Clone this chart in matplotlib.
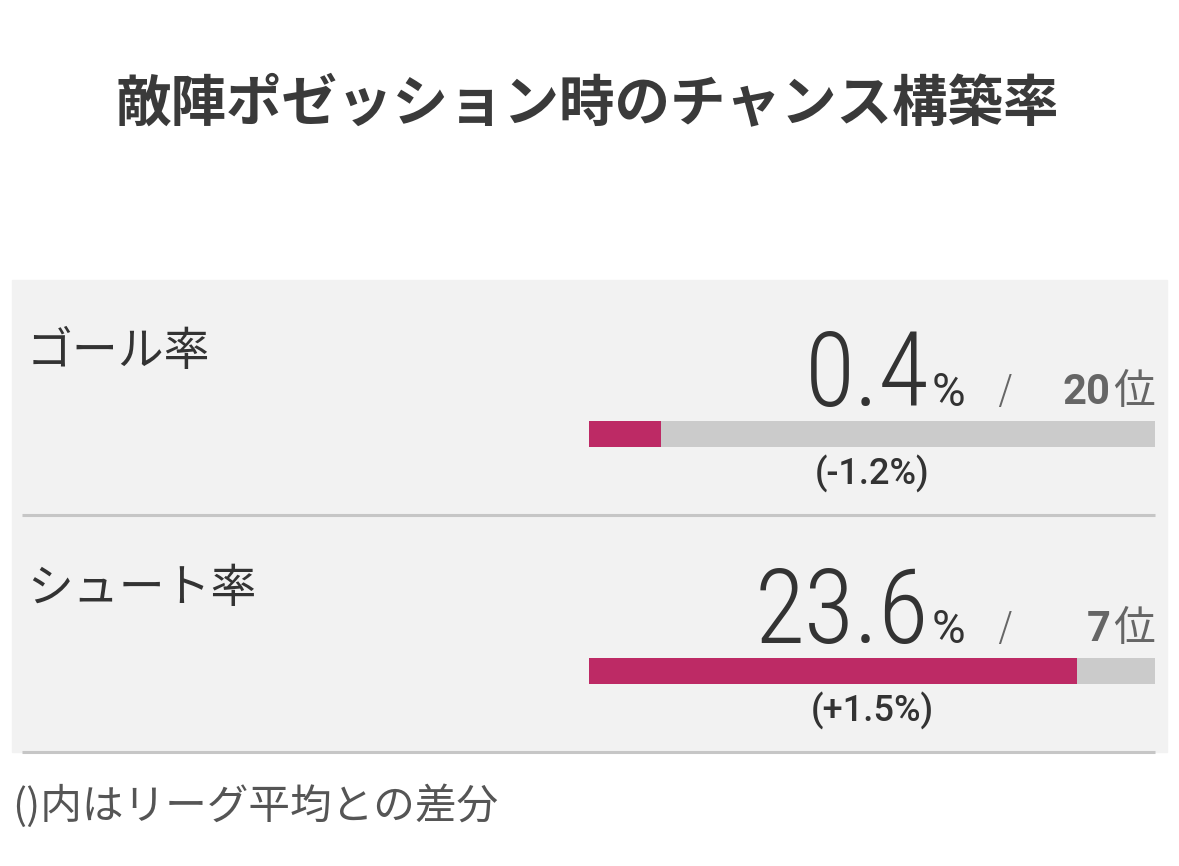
import matplotlib
matplotlib.use("Agg")
import matplotlib.pyplot as plt
from matplotlib.patches import Rectangle
from matplotlib import font_manager

# --- data ---
title = "敵陣ポゼッション時のチャンス構築率"
metrics = ["ゴール率", "シュート率"]
values = [0.4, 23.6]          # %
ranks = [20, 7]
diffs = [-1.2, 1.5]           # vs league average
bar_max = [3.15, 27.4]        # bar full scale per row
note = "()内はリーグ平均との差分"

# --- fonts ---
names = {f.name for f in font_manager.fontManager.ttflist}
num_font = "Roboto Condensed" if "Roboto Condensed" in names else "Roboto"
jp = ["Noto Sans CJK JP", "DejaVu Sans"]
plt.rcParams["font.family"] = jp

W, H = 1179, 866
fig = plt.figure(figsize=(W / 100, H / 100), dpi=100)
fig.patch.set_facecolor("white")
ax = fig.add_axes([0, 0, 1, 1])
ax.set_xlim(0, W)
ax.set_ylim(H, 0)
ax.axis("off")

ax.text(587, 105, title, ha="center", va="center", fontsize=40,
        fontweight="bold", color="#3a3a3a")

# panel background
ax.add_patch(Rectangle((12, 280), 1155, 472, color="#f2f2f2", zorder=0))

row_h = 237
bar_left, bar_right = 589, 1155
for i, (m, v, r, d, mx) in enumerate(zip(metrics, values, ranks, diffs, bar_max)):
    y0 = i * row_h
    ax.text(27, 352 + y0, m, ha="left", va="center", fontsize=33, color="#333333")

    # big value + unit
    ax.text(929, 406 + y0, f"{v:.1f}", ha="right", va="baseline", fontsize=74,
            family=num_font, fontweight="light", color="#333333")
    ax.text(932, 406 + y0, "%", ha="left", va="baseline", fontsize=33,
            family="Roboto", fontweight="normal", color="#333333")
    ax.text(1005, 404 + y0, "/", ha="center", va="baseline", fontsize=31,
            family=num_font, fontweight="light", color="#666666")
    ax.text(1111, 404 + y0, f"{r}", ha="right", va="baseline", fontsize=30,
            family="Roboto", fontweight="bold", color="#666666")
    ax.text(1155, 404 + y0, "位", ha="right", va="baseline", fontsize=30,
            color="#666666")

    # bar
    bx = fig.add_axes([bar_left / W, 1 - (447 + y0) / H,
                       (bar_right - bar_left) / W, 26 / H])
    bx.set_xlim(0, mx)
    bx.set_ylim(-0.5, 0.5)
    bx.barh(0, mx, height=1, color="#cbcbcb")
    bx.barh(0, v, height=1, color="#bd2a65")
    bx.axis("off")

    sign = "+" if d > 0 else ""
    ax.text((bar_left + bar_right) / 2, 474 + y0, f"({sign}{d:.1f}%)",
            ha="center", va="center", fontsize=26, family="Roboto",
            fontweight="medium", color="#333333")

    # separator
    ax.plot([22, 1155], [515 + y0, 515 + y0], color="#c6c6c6", lw=2.2,
            solid_capstyle="butt")

ax.text(12, 806, note, ha="left", va="center", fontsize=30, color="#555555")

fig.savefig("out.png", dpi=100, facecolor="white")
